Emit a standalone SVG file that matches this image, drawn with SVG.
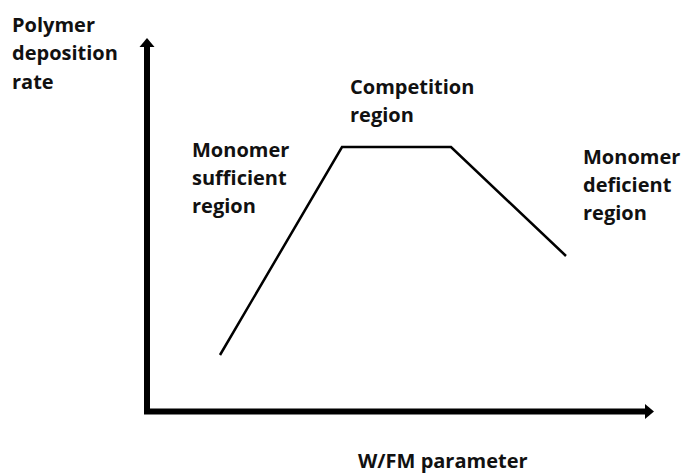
<svg xmlns="http://www.w3.org/2000/svg" width="683" height="474" viewBox="0 0 683 474">
<style>
text { font-family: "Open Sans", "Liberation Sans", sans-serif; font-weight: bold; font-size: 20px; fill: #111; }
.axis { fill: none; stroke: #000; stroke-width: 6; stroke-linejoin: miter; }
.curve { fill: none; stroke: #000; stroke-width: 2.5; stroke-linejoin: miter; }
.head { fill: #000; }
</style>
<rect width="683" height="474" fill="#fff"/>
<g id="connectors">
  <path class="axis" d="M147,46 V411.5 H646"/>
  <polygon class="head" points="147,38 139.5,47 154.5,47"/>
  <polygon class="head" points="654,411.5 645,404 645,419"/>
  <path class="curve" d="M220,355 L342,147 L451,147 L566,256"/>
</g>
<g id="y-label">
  <text x="12" y="31.5">Polymer</text>
  <text x="12" y="60">deposition</text>
  <text x="12" y="88.5">rate</text>
</g>
<g id="competition-region">
  <text x="350" y="94">Competition</text>
  <text x="350" y="122">region</text>
</g>
<g id="monomer-sufficient-region">
  <text x="192" y="157">Monomer</text>
  <text x="192" y="185">sufficient</text>
  <text x="192" y="213">region</text>
</g>
<g id="monomer-deficient-region">
  <text x="583" y="164">Monomer</text>
  <text x="583" y="192">deficient</text>
  <text x="583" y="220">region</text>
</g>
<g id="x-label">
  <text x="358" y="468">W/FM parameter</text>
</g>
</svg>
